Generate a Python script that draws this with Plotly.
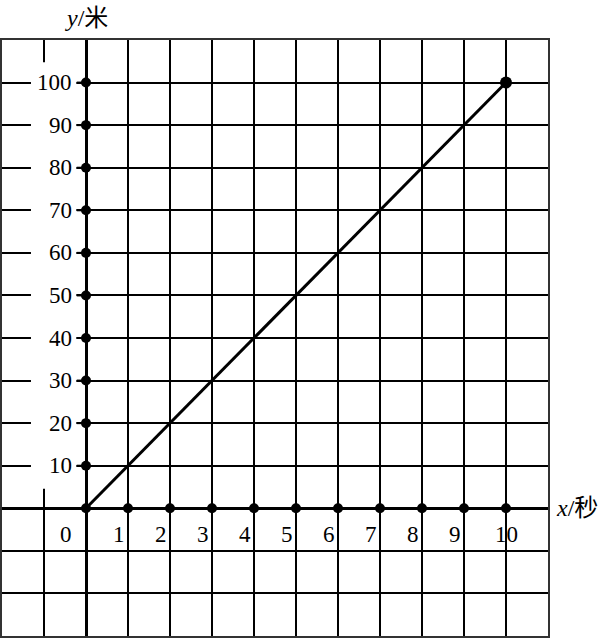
import plotly.graph_objects as go

# data
line_x = [0, 10]
line_y = [0, 100]
x_ticks = [1, 2, 3, 4, 5, 6, 7, 8, 9, 10]
y_ticks = [10, 20, 30, 40, 50, 60, 70, 80, 90, 100]
x_tick_labels = [str(v) for v in x_ticks]
y_tick_labels = [str(v) for v in y_ticks]
x_title = "<i>x</i>/秒"
y_title = "<i>y</i>/米"

NUM_FONT = dict(family="Liberation Serif, Times New Roman, serif", size=23, color="black")
TITLE_FONT = dict(family="Liberation Serif, Noto Sans CJK SC", size=24, color="black")

fig = go.Figure()

# tick stubs left of y axis
stub_x, stub_y = [], []
for v in y_ticks:
    stub_x += [-0.22, 0, None]
    stub_y += [v, v, None]
fig.add_trace(go.Scatter(x=stub_x, y=stub_y, mode="lines",
                         line=dict(color="black", width=2), hoverinfo="skip", showlegend=False))

# axes dots
fig.add_trace(go.Scatter(x=x_ticks, y=[0] * len(x_ticks), mode="markers",
                         marker=dict(color="black", size=10), showlegend=False))
fig.add_trace(go.Scatter(x=[0] * len(y_ticks), y=y_ticks, mode="markers",
                         marker=dict(color="black", size=10), showlegend=False))

# the line
fig.add_trace(go.Scatter(x=line_x, y=line_y, mode="lines",
                         line=dict(color="black", width=3), showlegend=False))
fig.add_trace(go.Scatter(x=[line_x[0]], y=[line_y[0]], mode="markers",
                         marker=dict(color="black", size=10), showlegend=False))
fig.add_trace(go.Scatter(x=[line_x[-1]], y=[line_y[-1]], mode="markers",
                         marker=dict(color="black", size=12), showlegend=False))

# white mask behind y tick labels (between gridlines and traces)
fig.add_shape(type="rect", xref="x", yref="y", x0=-1.31, x1=-0.23, y0=4.6, y1=104.8,
              fillcolor="white", line=dict(width=0), layer="between")

annotations = []
for v, t in zip(y_ticks, y_tick_labels):
    annotations.append(dict(x=0, y=v, xref="x", yref="y", text=t, showarrow=False,
                            xanchor="right", yanchor="middle", xshift=-12, font=NUM_FONT))
for v, t in zip(x_ticks, x_tick_labels):
    if v == x_ticks[-1]:
        annotations.append(dict(x=v, y=0, xref="x", yref="y", text=t, showarrow=False,
                                xanchor="center", yanchor="top", yshift=-12, font=NUM_FONT))
    else:
        annotations.append(dict(x=v, y=0, xref="x", yref="y", text=t, showarrow=False,
                                xanchor="right", yanchor="top", xshift=-1, yshift=-12, font=NUM_FONT))
annotations.append(dict(x=0, y=0, xref="x", yref="y", text="0", showarrow=False,
                        xanchor="right", yanchor="top", xshift=-12, yshift=-12, font=NUM_FONT))
annotations.append(dict(x=0, y=1, xref="x", yref="paper", text=y_title, showarrow=False,
                        xanchor="center", yanchor="bottom", yshift=7, font=TITLE_FONT))
annotations.append(dict(x=1, y=0, xref="paper", yref="y", text=x_title, showarrow=False,
                        xanchor="left", yanchor="middle", xshift=6, font=TITLE_FONT))

fig.update_layout(
    width=604, height=638,
    margin=dict(l=2, r=56, t=40, b=2),
    paper_bgcolor="white", plot_bgcolor="white",
    annotations=annotations,
    showlegend=False,
)
fig.update_xaxes(range=[-2, 11], dtick=1, tick0=0, showgrid=True, gridcolor="black", gridwidth=1.6,
                 zeroline=True, zerolinecolor="black", zerolinewidth=3,
                 showline=True, mirror=True, linecolor="#333", linewidth=2,
                 showticklabels=False, ticks="", fixedrange=True)
fig.update_yaxes(range=[-30, 110], dtick=10, tick0=0, showgrid=True, gridcolor="black", gridwidth=1.6,
                 zeroline=True, zerolinecolor="black", zerolinewidth=3,
                 showline=True, mirror=True, linecolor="#333", linewidth=2,
                 showticklabels=False, ticks="", fixedrange=True)

fig.write_html("out.html", config={"displayModeBar": False},
               post_script="document.body.style.margin='0';document.body.style.overflow='hidden';")
